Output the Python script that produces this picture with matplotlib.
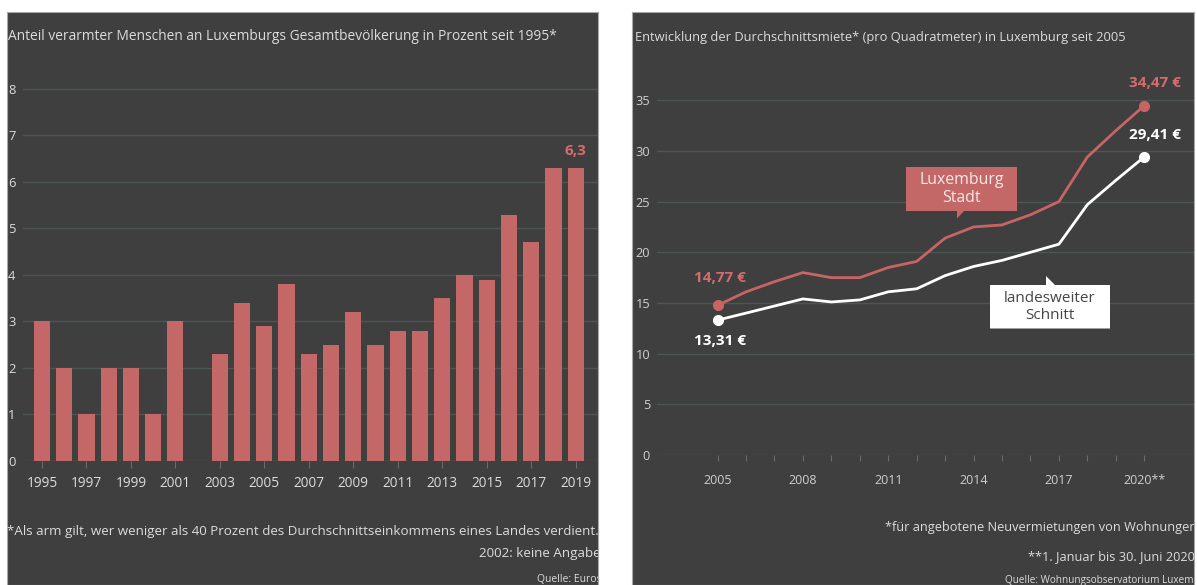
import matplotlib
matplotlib.use("Agg")
import matplotlib.pyplot as plt
from matplotlib.patches import Polygon

# Linkes Diagramm: Armutsquote in Prozent
years_poor = [1995, 1996, 1997, 1998, 1999, 2000, 2001, 2003, 2004, 2005, 2006, 2007,
              2008, 2009, 2010, 2011, 2012, 2013, 2014, 2015, 2016, 2017, 2018, 2019]
share_poor = [3.0, 2.0, 1.0, 2.0, 2.0, 1.0, 3.0, 2.3, 3.4, 2.9, 3.8, 2.3,
              2.5, 3.2, 2.5, 2.8, 2.8, 3.5, 4.0, 3.9, 5.3, 4.7, 6.3, 6.3]
poor_xticks = list(range(1995, 2020, 2))

# Rechtes Diagramm: Durchschnittsmiete pro m²
years_rent = list(range(2005, 2021))
rent_city = [14.77, 16.1, 17.1, 18.0, 17.5, 17.5, 18.5, 19.1, 21.4, 22.5, 22.7, 23.7,
             25.0, 29.4, 32.0, 34.47]
rent_country = [13.31, 14.0, 14.7, 15.4, 15.1, 15.3, 16.1, 16.4, 17.7, 18.6, 19.2, 20.0,
                20.8, 24.7, 27.1, 29.41]
rent_xticks = [2005, 2008, 2011, 2014, 2017, 2020]
rent_xlabels = ["2005", "2008", "2011", "2014", "2017", "2020**"]

W, H = 1197, 585
BG = "#3f3f3f"
GRID = "#4d5656"
RED = "#c46767"
RED_TXT = "#d46c6c"
TXT = "#dcdcdc"
BORDER = "#a8a8a8"

plt.rcParams["font.family"] = ["Open Sans", "DejaVu Sans"]


def rect(x0, y0, x1, y1):
    """Pixel-Rechteck (von oben gemessen) -> Figure-Koordinaten."""
    return [x0 / W, 1 - y1 / H, (x1 - x0) / W, (y1 - y0) / H]


def panel(x0, y0, x1, y1):
    ax = fig.add_axes(rect(x0, y0, x1, y1))
    ax.set_facecolor(BG)
    ax.set_xlim(x0, x1)
    ax.set_ylim(y1, y0)
    ax.set_xticks([])
    ax.set_yticks([])
    for s in ax.spines.values():
        s.set_color(BORDER)
        s.set_linewidth(0.8)
    return ax


def style_axes(ax):
    ax.set_facecolor("none")
    for s in ax.spines.values():
        s.set_visible(False)
    ax.set_axisbelow(True)
    ax.grid(axis="y", color=GRID, linewidth=1.0)
    ax.grid(axis="x", visible=False)


fig = plt.figure(figsize=(W / 100, H / 100), dpi=100)
fig.patch.set_facecolor("white")

# ---------- linkes Panel ----------
bgL = panel(7, 12, 598, 585)
bgL.text(8, 37, "Anteil verarmter Menschen an Luxemburgs Gesamtbevölkerung in Prozent seit 1995*",
         color=TXT, fontsize=9.9, va="center", ha="left", clip_on=True)
bgL.text(7, 532, "*Als arm gilt, wer weniger als 40 Prozent des Durchschnittseinkommens eines Landes verdient.",
         color=TXT, fontsize=9.6, va="center", ha="left", clip_on=True)
bgL.text(609, 553, "2002: keine Angaben", color=TXT, fontsize=9.6, va="center", ha="right", clip_on=True)
bgL.text(615, 579, "Quelle: Eurostat", color=TXT, fontsize=7.5, va="center", ha="right", clip_on=True)

axL = fig.add_axes(rect(23, 75, 598, 461))
style_axes(axL)
axL.bar(years_poor, share_poor, width=0.73, color=RED)
axL.set_xlim(1994.15, 2020.0)
axL.set_ylim(0, 8.3)
axL.set_yticks(range(0, 9))
axL.set_xticks(poor_xticks)
axL.tick_params(axis="y", length=0, pad=5.5, labelsize=9.4, labelcolor=TXT)
axL.tick_params(axis="x", length=5, width=0.8, color="#6a6a6a", pad=6, labelsize=9.8, labelcolor=TXT)
axL.annotate("6,3", xy=(years_poor[-1], share_poor[-1]), xytext=(0, 7), textcoords="offset points",
             ha="center", va="bottom", color=RED_TXT, fontsize=11, fontweight="bold")

# ---------- rechtes Panel ----------
bgR = panel(632, 12, 1194, 585)
bgR.text(635, 37, "Entwicklung der Durchschnittsmiete* (pro Quadratmeter) in Luxemburg seit 2005",
         color=TXT, fontsize=9.3, va="center", ha="left", clip_on=True)
bgR.text(1197, 527, "*für angebotene Neuvermietungen von Wohnungen", color=TXT, fontsize=9.2,
         va="center", ha="right", clip_on=True)
bgR.text(1195, 557, "**1. Januar bis 30. Juni 2020", color=TXT, fontsize=9.2,
         va="center", ha="right", clip_on=True)
bgR.text(1215, 580, "Quelle: Wohnungsobservatorium Luxemburg", color=TXT, fontsize=7.2,
         va="center", ha="right", clip_on=True)

axR = fig.add_axes(rect(657, 80, 1194, 455))
style_axes(axR)
axR.plot(years_rent, rent_city, color="#c86464", linewidth=2.0, zorder=3)
axR.plot(years_rent, rent_country, color="white", linewidth=2.0, zorder=3)
for ys, col in ((rent_city, "#c86464"), (rent_country, "white")):
    axR.plot([years_rent[0], years_rent[-1]], [ys[0], ys[-1]], "o", color=col, markersize=7, zorder=4)
axR.set_xlim(2002.87, 2021.75)
axR.set_ylim(0, 37)
axR.set_yticks(range(0, 40, 5))
axR.set_xticks(years_rent, minor=True)
axR.set_xticks(rent_xticks)
axR.set_xticklabels(rent_xlabels)
axR.tick_params(axis="y", length=0, pad=5, labelsize=9.2, labelcolor="#cfcfcf")
axR.tick_params(axis="x", which="both", length=4.5, width=0.8, color="#6a6a6a")
axR.tick_params(axis="x", which="major", pad=9, labelsize=9.0, labelcolor="#cfcfcf")

lbl = dict(ha="center", va="center", fontsize=11, fontweight="bold", textcoords="offset points")
axR.annotate("14,77 €", xy=(years_rent[0], rent_city[0]), xytext=(2, 20), color=RED_TXT, **lbl)
axR.annotate("13,31 €", xy=(years_rent[0], rent_country[0]), xytext=(2, -15), color="white", **lbl)
axR.annotate("34,47 €", xy=(years_rent[-1], rent_city[-1]), xytext=(8, 16), color=RED_TXT, **lbl)
axR.annotate("29,41 €", xy=(years_rent[-1], rent_country[-1]), xytext=(8, 16), color="white", **lbl)

# Beschriftungskästen mit Zeiger (Pixelkoordinaten über bgR)
red_box = [(906, 167), (1017, 167), (1017, 211), (964, 211), (957, 218.5), (957, 211), (906, 211)]
white_box = [(990, 285), (1046, 285), (1046, 276), (1055, 285), (1110, 285), (1110, 328.5), (990, 328.5)]
axR.add_patch(Polygon(red_box, closed=True, facecolor=RED, edgecolor="none",
                      transform=bgR.transData, clip_on=False, zorder=5))
axR.add_patch(Polygon(white_box, closed=True, facecolor="white", edgecolor="none",
                      transform=bgR.transData, clip_on=False, zorder=5))
axR.text(961.5, 189, "Luxemburg\nStadt", transform=bgR.transData, ha="center", va="center",
         color="#f4e8e8", fontsize=11.4, linespacing=1.1, zorder=6)
axR.text(1050, 307, "landesweiter\nSchnitt", transform=bgR.transData, ha="center", va="center",
         color="#454545", fontsize=11.0, linespacing=1.1, zorder=6)

fig.savefig("out.png", dpi=100, facecolor=fig.get_facecolor())
